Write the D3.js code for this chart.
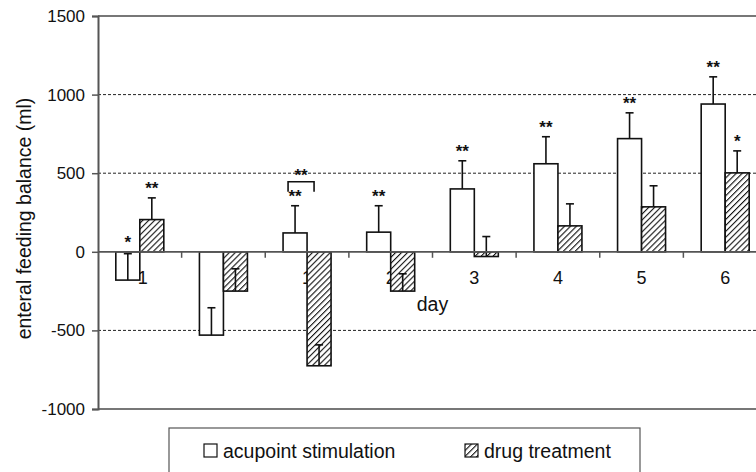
<!DOCTYPE html>
<html>
<head>
<meta charset="utf-8">
<script src="https://cdn.jsdelivr.net/npm/d3@7"></script>
<style>
  body { margin: 0; background: #fff; }
  svg { display: block; font-family: "Liberation Sans", Arial, sans-serif; }
</style>
</head>
<body>
<div id="chart"></div>
<script>
// datos
const days = ["-1", "0", "1", "2", "3", "4", "5", "6"]
const acupoint = [-180, -530, 120, 125, 400, 560, 720, 940]
const acupointErr = [168, 174, 173, 168, 179, 172, 164, 173]
const drug = [205, -250, -725, -250, -30, 165, 286, 502]
const drugErr = [138, 142, 133, 110, 127, 140, 134, 140]
const acupointStars = ["*", "", "**", "**", "**", "**", "**", "**"]
const drugStars = ["**", "", "", "", "", "", "", "*"]
const yTicks = [-1000, -500, 0, 500, 1000, 1500]
const gridValues = [-500, 500, 1000]

const width = 756, height = 472
const plot = {left: 98, right: 767, top: 16, bottom: 409}

const svg = d3.select("#chart").append("svg")
  .attr("width", width)
  .attr("height", height)

// patron rayado
svg.append("defs").append("pattern")
  .attr("id", "hatch")
  .attr("patternUnits", "userSpaceOnUse")
  .attr("width", 4.2).attr("height", 4.2)
  .attr("patternTransform", "rotate(45)")
  .call(p => p.append("rect").attr("width", 4.2).attr("height", 4.2).attr("fill", "#fff"))
  .append("line")
    .attr("x1", 0).attr("y1", 0).attr("x2", 0).attr("y2", 4.2)
    .attr("stroke", "#111").attr("stroke-width", 2.2)

const x = d3.scaleBand().domain(days).range([plot.left, plot.right]).padding(0)
const y = d3.scaleLinear().domain([-1000, 1500]).range([plot.bottom, plot.top])
const barW = 24

// lineas de cuadricula
svg.append("g").selectAll("line")
  .data(gridValues)
  .join("line")
    .attr("x1", plot.left).attr("x2", plot.right)
    .attr("y1", d => y(d)).attr("y2", d => y(d))
    .attr("stroke", "#222").attr("stroke-width", 1)
    .attr("stroke-dasharray", "3,2")

// marco superior e inferior
svg.append("g").selectAll("line")
  .data([1500, -1000])
  .join("line")
    .attr("x1", plot.left).attr("x2", plot.right)
    .attr("y1", d => y(d)).attr("y2", d => y(d))
    .attr("stroke", "#777").attr("stroke-width", 2)

// eje Y (guion normal en los negativos, como en el original)
const yAxis = svg.append("g")
  .attr("transform", `translate(${plot.left},0)`)
  .call(d3.axisLeft(y).tickValues(yTicks).tickSize(6).tickPadding(7).tickFormat(d => String(d)))
yAxis.select(".domain").attr("stroke", "#555").attr("stroke-width", 2)
yAxis.selectAll(".tick line").attr("stroke", "#555").attr("stroke-width", 1.5)
yAxis.selectAll("text").attr("font-size", 17).attr("fill", "#111")
  .attr("font-family", "Liberation Sans, Arial, sans-serif")

// etiquetas del eje X (debajo de las barras)
svg.append("g").selectAll("text")
  .data(days)
  .join("text")
    .attr("x", d => x(d) + x.bandwidth() / 2)
    .attr("y", y(0) + 32)
    .attr("text-anchor", "middle")
    .attr("font-size", 18)
    .attr("fill", "#111")
    .text(d => d)

svg.append("text")
  .attr("x", (plot.left + plot.right) / 2)
  .attr("y", y(0) + 59)
  .attr("text-anchor", "middle")
  .attr("font-size", 19.5)
  .attr("fill", "#111")
  .text("day")

// barras
const series = [
  {name: "acupoint", values: acupoint, err: acupointErr, stars: acupointStars, offset: -barW, fill: "#fff"},
  {name: "drug", values: drug, err: drugErr, stars: drugStars, offset: 0, fill: "url(#hatch)"}
]

series.forEach(s => {
  const g = svg.append("g")
  const cx = (d, i) => x(days[i]) + x.bandwidth() / 2 + s.offset

  g.selectAll("rect")
    .data(s.values)
    .join("rect")
      .attr("x", (d, i) => cx(d, i))
      .attr("y", d => y(Math.max(0, d)))
      .attr("width", barW)
      .attr("height", d => Math.abs(y(d) - y(0)))
      .attr("fill", s.fill)
      .attr("stroke", "#111").attr("stroke-width", 1.6)

  // barras de error (solo direccion positiva)
  g.selectAll("line.err")
    .data(s.values)
    .join("line")
      .attr("class", "err")
      .attr("x1", (d, i) => cx(d, i) + barW / 2).attr("x2", (d, i) => cx(d, i) + barW / 2)
      .attr("y1", d => y(d)).attr("y2", (d, i) => y(d + s.err[i]))
      .attr("stroke", "#111").attr("stroke-width", 1.6)
  g.selectAll("line.cap")
    .data(s.values)
    .join("line")
      .attr("class", "cap")
      .attr("x1", (d, i) => cx(d, i) + barW / 2 - 4).attr("x2", (d, i) => cx(d, i) + barW / 2 + 4)
      .attr("y1", (d, i) => y(d + s.err[i])).attr("y2", (d, i) => y(d + s.err[i]))
      .attr("stroke", "#111").attr("stroke-width", 1.6)

  // asteriscos
  g.selectAll("text.star")
    .data(s.values)
    .join("text")
      .attr("class", "star")
      .attr("x", (d, i) => cx(d, i) + barW / 2)
      .attr("y", (d, i) => y(Math.max(0, d + s.err[i])) - 4)
      .attr("text-anchor", "middle")
      .attr("font-size", 17)
      .attr("font-weight", "bold")
      .attr("fill", "#111")
      .text((d, i) => s.stars[i])
})

// eje cero con marcas
svg.append("line")
  .attr("x1", plot.left).attr("x2", plot.right)
  .attr("y1", y(0)).attr("y2", y(0))
  .attr("stroke", "#555").attr("stroke-width", 1.8)
svg.append("g").selectAll("line")
  .data(days.slice(1))
  .join("line")
    .attr("x1", d => x(d)).attr("x2", d => x(d))
    .attr("y1", y(0)).attr("y2", y(0) + 6)
    .attr("stroke", "#555").attr("stroke-width", 1.5)

// corchete entre grupos en el dia 1
const bx = x("1") + x.bandwidth() / 2
const bTop = y(acupoint[2] + acupointErr[2]) - 24
svg.append("path")
  .attr("d", `M${bx - 19},${bTop + 10}V${bTop}H${bx + 7}V${bTop + 10}`)
  .attr("fill", "none").attr("stroke", "#111").attr("stroke-width", 1.6)
svg.append("text")
  .attr("x", bx - 6).attr("y", bTop - 1)
  .attr("text-anchor", "middle")
  .attr("font-size", 17).attr("font-weight", "bold").attr("fill", "#111")
  .text("**")

// titulo eje Y
svg.append("text")
  .attr("transform", `translate(31,${(plot.top + plot.bottom) / 2 + 6}) rotate(-90)`)
  .attr("text-anchor", "middle")
  .attr("font-size", 19.5)
  .attr("fill", "#111")
  .text("enteral feeding balance (ml)")

// leyenda
const legend = svg.append("g")
legend.append("rect")
  .attr("x", 169).attr("y", 428).attr("width", 471).attr("height", 60)
  .attr("fill", "#fff").attr("stroke", "#555").attr("stroke-width", 1.2)

const legendItems = [
  {label: "acupoint stimulation", fill: "#fff", x: 204},
  {label: "drug treatment", fill: "url(#hatch)", x: 465}
]
legendItems.forEach(it => {
  legend.append("rect")
    .attr("x", it.x).attr("y", 444).attr("width", 13).attr("height", 13)
    .attr("fill", it.fill).attr("stroke", "#111").attr("stroke-width", 1.2)
  legend.append("text")
    .attr("x", it.x + 19).attr("y", 458)
    .attr("font-size", 19.5).attr("fill", "#111")
    .text(it.label)
})
</script>
</body>
</html>
